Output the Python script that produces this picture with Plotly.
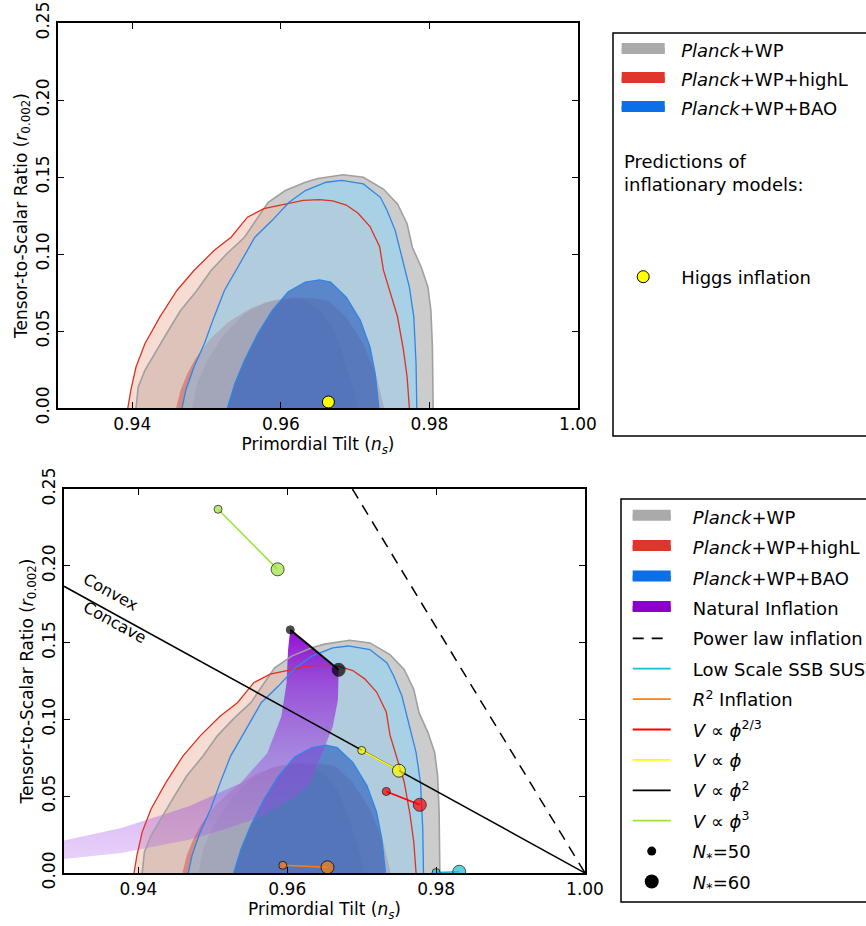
import plotly.graph_objects as go

# ---------------- data ----------------
X_TICKS = [0.94, 0.96, 0.98, 1.00]
X_LABELS = ["0.94", "0.96", "0.98", "1.00"]
Y_TICKS = [0.00, 0.05, 0.10, 0.15, 0.20, 0.25]
Y_LABELS = ["0.00", "0.05", "0.10", "0.15", "0.20", "0.25"]

# Planck+WP
WP95_NS = [0.9405, 0.9408, 0.9417, 0.9428, 0.9446, 0.9465, 0.9487, 0.9506, 0.9528, 0.9551, 0.9569, 0.9583,
           0.9606, 0.9633, 0.9650, 0.9684, 0.9711, 0.9738, 0.9757, 0.9770, 0.9777, 0.9789, 0.9798, 0.9802,
           0.9804, 0.9805]
WP95_R = [0.0, 0.0136, 0.0244, 0.0331, 0.0482, 0.0633, 0.0763, 0.0893, 0.1005, 0.1109, 0.1239, 0.1336,
          0.1412, 0.1466, 0.1490, 0.1515, 0.1498, 0.1422, 0.1325, 0.1195, 0.1044, 0.0914, 0.0785, 0.0633,
          0.0396, 0.0]
WP68_NS = [0.9481, 0.9487, 0.9501, 0.9524, 0.9551, 0.9579, 0.9601, 0.9615, 0.9633, 0.9650, 0.9668, 0.9680,
           0.9693, 0.9700, 0.9703]
WP68_R = [0.0, 0.0158, 0.0309, 0.0482, 0.0612, 0.0687, 0.0703, 0.0709, 0.0698, 0.0645, 0.0540, 0.0396,
          0.0201, 0.0090, 0.0]

# Planck+WP+highL
HL95_NS = [0.9394, 0.9398, 0.9405, 0.9417, 0.9437, 0.9460, 0.9483, 0.9510, 0.9533, 0.9555, 0.9577, 0.9605,
           0.9630, 0.9652, 0.9670, 0.9688, 0.9704, 0.9720, 0.9733, 0.9738, 0.9746, 0.9757, 0.9765, 0.9770,
           0.9773]
HL95_R = [0.0, 0.0115, 0.0266, 0.0417, 0.0590, 0.0763, 0.0893, 0.1022, 0.1109, 0.1239, 0.1295, 0.1325,
          0.1348, 0.1353, 0.1345, 0.1318, 0.1264, 0.1178, 0.1048, 0.0897, 0.0767, 0.0594, 0.0378, 0.0200,
          0.0]
HL68_NS = [0.9459, 0.9465, 0.9474, 0.9485, 0.9505, 0.9530, 0.9560, 0.9590, 0.9620, 0.9645, 0.9665, 0.9688,
           0.9711, 0.9729, 0.9739]
HL68_R = [0.0, 0.0115, 0.0223, 0.0320, 0.0450, 0.0560, 0.0650, 0.0700, 0.0718, 0.0712, 0.0695, 0.0590,
          0.0417, 0.0201, 0.0]

# Planck+WP+BAO
BAO95_NS = [0.9467, 0.9472, 0.9483, 0.9497, 0.9510, 0.9524, 0.9542, 0.9565, 0.9588, 0.9611, 0.9633, 0.9661,
            0.9682, 0.9711, 0.9734, 0.9743, 0.9754, 0.9763, 0.9773, 0.9779, 0.9782, 0.9783]
BAO95_R = [0.0, 0.0115, 0.0266, 0.0417, 0.0590, 0.0763, 0.0914, 0.1109, 0.1217, 0.1336, 0.1412, 0.1466,
           0.1478, 0.1455, 0.1368, 0.1282, 0.1152, 0.0979, 0.0785, 0.0590, 0.0288, 0.0]
BAO68_NS = [0.9528, 0.9538, 0.9551, 0.9569, 0.9588, 0.9610, 0.9633, 0.9652, 0.9667, 0.9688, 0.9707, 0.9720,
            0.9727, 0.9732]
BAO68_R = [0.0, 0.0158, 0.0309, 0.0482, 0.0630, 0.0755, 0.0817, 0.0832, 0.0817, 0.0720, 0.0569, 0.0396,
           0.0223, 0.0]

# Natural inflation band
NI_UPPER_NS = [0.9300, 0.9377, 0.9468, 0.9537, 0.9573, 0.9592, 0.9599, 0.9601, 0.9604]
NI_UPPER_R = [0.0212, 0.0293, 0.0434, 0.0585, 0.0780, 0.1019, 0.1236, 0.1452, 0.1583]
NI_LOWER_NS = [0.9300, 0.9377, 0.9468, 0.9514, 0.9560, 0.9590, 0.9610, 0.9628, 0.9645, 0.9661, 0.9668, 0.9669]
NI_LOWER_R = [0.0091, 0.0130, 0.0217, 0.0282, 0.0358, 0.0440, 0.0500, 0.0564, 0.0757, 0.0951, 0.1124, 0.1323]

# Power law inflation and convex/concave divide
POWERLAW_NS = [0.96875, 1.0]
POWERLAW_R = [0.25, 0.0]
DIVIDE_NS = [0.93, 1.0]
DIVIDE_R = [0.18667, 0.0]

# Model predictions [N*=50, N*=60]
SSB_NS, SSB_R = [0.9800, 0.9831], [0.0003, 0.0008]
R2_NS, R2_R = [0.9594, 0.9654], [0.0050, 0.0037]
PHI23_NS, PHI23_R = [0.9733, 0.9778], [0.0531, 0.0444]
PHI1_NS, PHI1_R = [0.9700, 0.9750], [0.0798, 0.0666]
PHI2_NS, PHI2_R = [0.9604, 0.9669], [0.1583, 0.1323]
PHI3_NS, PHI3_R = [0.9507, 0.9587], [0.2368, 0.1977]

HIGGS_NS, HIGGS_R = [0.9664], [0.0039]

# ---------------- figure ----------------
W, H = 866, 926
FONT = "DejaVu Sans"
NB = "\u00a0"


def px(v):
    return v / W


def py(v):
    return 1 - v / H


fig = go.Figure()

contour_layers = [
    (WP95_NS, WP95_R, "rgba(153,153,153,0.5)"),
    (WP68_NS, WP68_R, "rgba(60,60,90,0.5)"),
    (HL95_NS, HL95_R, "rgba(239,185,169,0.5)"),
    (HL68_NS, HL68_R, "rgba(204,80,67,0.5)"),
    (BAO95_NS, BAO95_R, "rgba(132,214,255,0.5)"),
    (BAO68_NS, BAO68_R, "rgba(25,78,188,0.56)"),
]
contour_lines = [
    (WP95_NS, WP95_R, "#a0a0a0", 1.6),
    (HL95_NS, HL95_R, "#e0301e", 1.3),
    (BAO95_NS, BAO95_R, "#2f86e6", 1.3),
    (BAO68_NS, BAO68_R, "#2f86e6", 1.3),
]

for xa, ya in [("x", "y"), ("x2", "y2")]:
    for ns, r, col in contour_layers:
        fig.add_trace(go.Scatter(x=ns, y=r, mode="lines", fill="toself", fillcolor=col,
                                 line=dict(width=0), hoverinfo="skip", showlegend=False,
                                 xaxis=xa, yaxis=ya))
    if xa == "x2":
        fig.add_trace(go.Scatter(
            x=NI_UPPER_NS + NI_LOWER_NS[::-1], y=NI_UPPER_R + NI_LOWER_R[::-1],
            mode="lines", fill="toself", line=dict(width=0),
            fillgradient=dict(type="vertical",
                              colorscale=[[0.0, "rgba(170,90,235,0.28)"],
                                          [0.45, "rgba(155,65,222,0.5)"],
                                          [0.75, "rgba(145,35,215,0.72)"],
                                          [1.0, "rgba(135,0,205,0.95)"]]),
            hoverinfo="skip", showlegend=False, xaxis=xa, yaxis=ya))
    for ns, r, col, w in contour_lines:
        fig.add_trace(go.Scatter(x=ns, y=r, mode="lines", line=dict(color=col, width=w),
                                 hoverinfo="skip", showlegend=False, xaxis=xa, yaxis=ya))

# power law + divide lines
fig.add_trace(go.Scatter(x=POWERLAW_NS, y=POWERLAW_R, mode="lines",
                         line=dict(color="black", width=1.5, dash="11px,8px"),
                         showlegend=False, xaxis="x2", yaxis="y2"))
fig.add_trace(go.Scatter(x=DIVIDE_NS, y=DIVIDE_R, mode="lines",
                         line=dict(color="black", width=1.5),
                         showlegend=False, xaxis="x2", yaxis="y2"))

models = [
    (SSB_NS, SSB_R, "#17bed6"),
    (R2_NS, R2_R, "#ff7f0e"),
    (PHI23_NS, PHI23_R, "#ff0000"),
    (PHI1_NS, PHI1_R, "#ffff00"),
    (PHI2_NS, PHI2_R, "#000000"),
    (PHI3_NS, PHI3_R, "#9de33c"),
]
for ns, r, col in models:
    fig.add_trace(go.Scatter(x=ns, y=r, mode="lines", line=dict(color=col, width=2 if col == "#000000" else 1.6),
                             showlegend=False, xaxis="x2", yaxis="y2"))
    fig.add_trace(go.Scatter(x=ns, y=r, mode="markers",
                             marker=dict(color=col, size=[8, 13], line=dict(color="black", width=1)),
                             showlegend=False, xaxis="x2", yaxis="y2"))

fig.add_trace(go.Scatter(x=HIGGS_NS, y=HIGGS_R, mode="markers",
                         marker=dict(color="#ffff00", size=12, line=dict(color="black", width=1)),
                         showlegend=False, xaxis="x", yaxis="y"))

# ---------------- legends ----------------
patch_entries = [
    ("<i>Planck</i>+WP", "#aaaaaa"),
    ("<i>Planck</i>+WP+highL", "#e0352b"),
    ("<i>Planck</i>+WP+BAO", "#0b6fe8"),
]
for i, (name, col) in enumerate(patch_entries):
    fig.add_trace(go.Scatter(x=[None], y=[None], mode="lines", fill="toself", fillcolor=col,
                             line=dict(color=col, width=10), name=NB * 2 + name,
                             legend="legend", legendgroup="t%d" % i))
fig.add_trace(go.Scatter(x=[None], y=[None], mode="markers",
                         marker=dict(color="#ffff00", size=12, line=dict(color="black", width=1)),
                         name=NB * 2 + "Higgs inflation", legend="legend3"))

bottom_entries = patch_entries + [("Natural Inflation", "#8c00cc")]
for i, (name, col) in enumerate(bottom_entries):
    fig.add_trace(go.Scatter(x=[None], y=[None], mode="lines", fill="toself", fillcolor=col,
                             line=dict(color=col, width=10), name=NB * 3 + name,
                             legend="legend2", legendgroup="b%d" % i))
line_entries = [
    ("Power law inflation", "black", "11px,8px"),
    ("Low Scale SSB SUSY", "#17bed6", "solid"),
    ("<i>R</i><sup>2</sup> Inflation", "#ff7f0e", "solid"),
    ("<i>V</i> \u221d <i>\u03d5</i><sup>2/3</sup>", "#ff0000", "solid"),
    ("<i>V</i> \u221d <i>\u03d5</i>", "#ffff00", "solid"),
    ("<i>V</i> \u221d <i>\u03d5</i><sup>2</sup>", "#000000", "solid"),
    ("<i>V</i> \u221d <i>\u03d5</i><sup>3</sup>", "#9de33c", "solid"),
]
for j, (name, col, dash) in enumerate(line_entries):
    fig.add_trace(go.Scatter(x=[None], y=[None], mode="lines",
                             line=dict(color=col, width=1.8, dash=dash), name=NB * 3 + name,
                             legend="legend2", legendgroup="b%d" % (j + 10)))
for k, (name, size) in enumerate([("<i>N</i><sub>*</sub>=50", 9), ("<i>N</i><sub>*</sub>=60", 14)]):
    fig.add_trace(go.Scatter(x=[None], y=[None], mode="markers",
                             marker=dict(color="black", size=size), name=NB * 3 + name,
                             legend="legend2", legendgroup="b%d" % (k + 20)))

leg_common = dict(xanchor="left", yanchor="top", bgcolor="rgba(0,0,0,0)", borderwidth=0,
                  font=dict(family=FONT, size=18, color="black"), traceorder="grouped",
                  itemsizing="trace", itemclick=False, itemdoubleclick=False)

# ---------------- axes ----------------
def xaxis(domain, anchor):
    return dict(domain=domain, anchor=anchor, range=[0.93, 1.0], tickvals=X_TICKS, ticktext=X_LABELS,
                ticks="inside", ticklen=6, tickwidth=1, tickcolor="black", showline=True,
                linecolor="black", linewidth=1.5, mirror="ticks", showgrid=False, zeroline=False,
                tickfont=dict(family=FONT, size=17, color="black"),
                title=dict(text="Primordial Tilt (<i>n</i><sub><i>s</i></sub>)",
                           font=dict(family=FONT, size=17, color="black"), standoff=4))


def yaxis(domain, anchor):
    return dict(domain=domain, anchor=anchor, range=[0.0, 0.25], tickvals=Y_TICKS, ticktext=Y_LABELS,
                ticks="inside", ticklen=6, tickwidth=1, tickcolor="black", showline=True,
                linecolor="black", linewidth=1.5, mirror="ticks", showgrid=False, zeroline=False,
                tickangle=-90, tickfont=dict(family=FONT, size=17, color="black"),
                title=dict(text="Tensor-to-Scalar Ratio (<i>r</i><sub>0.002</sub>)",
                           font=dict(family=FONT, size=17, color="black"), standoff=1))


fig.update_layout(
    width=W, height=H,
    margin=dict(l=0, r=0, t=0, b=0, autoexpand=False),
    paper_bgcolor="white", plot_bgcolor="white",
    font=dict(family=FONT, size=17, color="black"),
    xaxis=xaxis([px(58), px(578)], "y"),
    yaxis=yaxis([py(408), py(23)], "x"),
    xaxis2=xaxis([px(64), px(585)], "y2"),
    yaxis2=yaxis([py(873), py(489)], "x2"),
    legend=dict(x=px(616.7), y=py(31.8), itemwidth=43, tracegroupgap=2.6, **leg_common),
    legend3=dict(x=px(616.7), y=py(258.5), itemwidth=43, tracegroupgap=0, **leg_common),
    legend2=dict(x=px(627.7), y=py(498.5), itemwidth=38, tracegroupgap=4, **leg_common),
    shapes=[
        dict(type="rect", xref="paper", yref="paper", x0=px(613), x1=px(900), y0=py(436), y1=py(33),
             line=dict(color="black", width=1.5), fillcolor="rgba(0,0,0,0)"),
        dict(type="rect", xref="paper", yref="paper", x0=px(621), x1=px(900), y0=py(902), y1=py(499),
             line=dict(color="black", width=1.5), fillcolor="rgba(0,0,0,0)"),
    ],
    annotations=[
        dict(text="Predictions of<br>inflationary models:", xref="paper", yref="paper",
             x=px(622), y=py(173.4), xanchor="left", yanchor="middle", align="left", showarrow=False,
             font=dict(family=FONT, size=18, color="black")),
        dict(text="Convex", xref="x2", yref="y2", x=0.93638, y=0.1829, textangle=28.8,
             xanchor="center", yanchor="middle", showarrow=False,
             font=dict(family=FONT, size=16, color="black")),
        dict(text="Concave", xref="x2", yref="y2", x=0.93685, y=0.1628, textangle=28.8,
             xanchor="center", yanchor="middle", showarrow=False,
             font=dict(family=FONT, size=16, color="black")),
    ],
)

fig.write_html("out.html")
